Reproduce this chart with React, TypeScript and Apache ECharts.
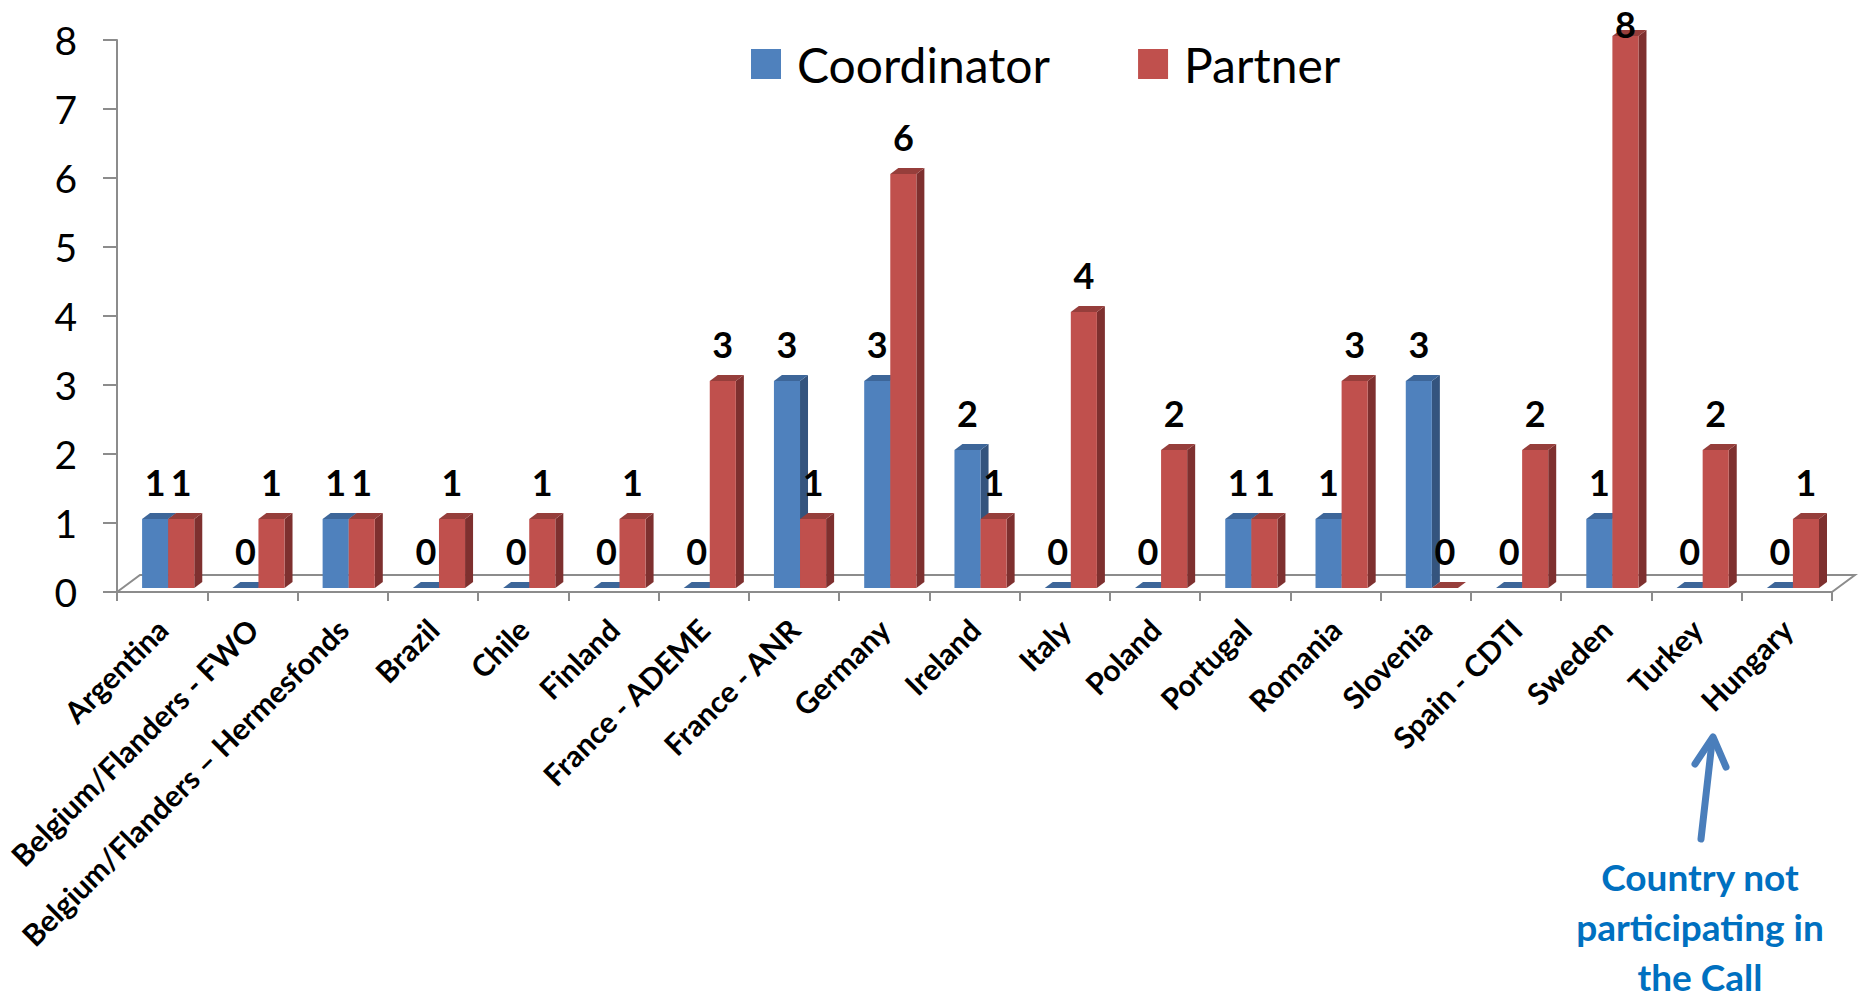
import React, { useEffect, useRef } from "react";
import * as echarts from "echarts";

// ---------- data ----------
const categories = [
  "Argentina",
  "Belgium/Flanders - FWO",
  "Belgium/Flanders – Hermesfonds",
  "Brazil",
  "Chile",
  "Finland",
  "France - ADEME",
  "France - ANR",
  "Germany",
  "Ireland",
  "Italy",
  "Poland",
  "Portugal",
  "Romania",
  "Slovenia",
  "Spain - CDTI",
  "Sweden",
  "Turkey",
  "Hungary",
];
const coordinator = [1, 0, 1, 0, 0, 0, 0, 3, 3, 2, 0, 0, 1, 1, 3, 0, 1, 0, 0];
const partner = [1, 1, 1, 1, 1, 1, 3, 1, 6, 1, 4, 2, 1, 3, 0, 2, 8, 2, 1];
const seriesNames = ["Coordinator", "Partner"];
const yMin = 0;
const yMax = 8;
const yInterval = 1;
const noteLines = ["Country not", "participating in", "the Call"];

// ---------- layout / style ----------
const W = 1858;
const H = 998;
const GRID_LEFT = 117;
const GRID_TOP = 40;
const GRID_RIGHT_X = 1832;
const GRID_BOTTOM_Y = 592;
const FLOOR_DX = 23;
const FLOOR_DY = 17;
const BAR_W = 0.289;
const LIFT = 4;
const DX = 8;
const DY = 6;
const LABEL_GAP = 19;
const LABEL_MIN = 42;
const FONT = "Lato, 'Open Sans', 'DejaVu Sans', sans-serif";

const BLUE = { front: "#4F81BD", top: "#3D6699", side: "#34547E" };
const RED = { front: "#C0504D", top: "#963E3B", side: "#7E302F" };

function makeRender(offsetFrac: number, c: { front: string; top: string; side: string }) {
  return (params: any, api: any) => {
    const cat = api.value(0) as number;
    const v = api.value(1) as number;
    const p0 = api.coord([cat, 0]);
    const p1 = api.coord([cat, v]);
    const cw = api.size([1, 0])[0];
    const w = cw * BAR_W;
    const x0 = p0[0] + cw * offsetFrac;
    const x1 = x0 + w;
    const yb = p0[1] - LIFT;
    const yt = p1[1] - LIFT;
    const children: any[] = [];
    if (yb - yt > 0.5) {
      children.push({
        type: "polygon",
        shape: { points: [[x1, yb], [x1 + DX, yb - DY], [x1 + DX, yt - DY], [x1, yt]] },
        style: { fill: c.side },
      });
      children.push({
        type: "rect",
        shape: { x: x0, y: yt, width: w, height: yb - yt },
        style: { fill: c.front },
      });
    }
    children.push({
      type: "polygon",
      shape: { points: [[x0, yt], [x0 + DX, yt - DY], [x1 + DX, yt - DY], [x1, yt]] },
      style: { fill: c.top },
    });
    children.push({
      type: "text",
      x: x0 + w / 2,
      y: Math.max(yt - LABEL_GAP, LABEL_MIN),
      style: {
        text: String(v),
        fontSize: 36,
        fontWeight: "bold",
        fontFamily: FONT,
        fill: "#000",
        align: "center",
        verticalAlign: "bottom",
      },
    });
    return { type: "group", children };
  };
}

export default function App() {
  const ref = useRef<HTMLDivElement>(null);
  useEffect(() => {
    if (!ref.current) return;
    const chart = echarts.init(ref.current, undefined, { renderer: "svg" });
    const axisGray = "#8C8C8C";
    chart.setOption({
      animation: false,
      grid: {
        left: GRID_LEFT,
        top: GRID_TOP,
        width: GRID_RIGHT_X - GRID_LEFT,
        height: GRID_BOTTOM_Y - GRID_TOP,
        containLabel: false,
      },
      legend: {
        data: seriesNames,
        left: 751,
        top: 40,
        itemWidth: 30,
        itemHeight: 30,
        itemGap: 88,
        padding: 0,
        icon: "rect",
        textStyle: { fontSize: 48, fontFamily: FONT, color: "#000", padding: [0, 0, 0, 11] },
      },
      xAxis: {
        type: "category",
        data: categories,
        boundaryGap: true,
        axisLine: { show: true, lineStyle: { color: axisGray, width: 2 } },
        axisTick: { show: true, length: 9, alignWithLabel: false, lineStyle: { color: axisGray, width: 2 } },
        axisLabel: {
          interval: 0,
          rotate: 45,
          margin: 32,
          fontSize: 30,
          fontWeight: "bold",
          fontFamily: FONT,
          color: "#000",
        },
        splitLine: { show: false },
      },
      yAxis: {
        type: "value",
        min: yMin,
        max: yMax,
        interval: yInterval,
        axisLine: { show: true, lineStyle: { color: axisGray, width: 2 } },
        axisTick: { show: true, length: 14, lineStyle: { color: axisGray, width: 2 } },
        axisLabel: { margin: 40, fontSize: 39, fontFamily: FONT, color: "#000" },
        splitLine: { show: false },
      },
      graphic: [
        {
          type: "polyline",
          z: 1,
          shape: {
            points: [
              [GRID_LEFT, GRID_BOTTOM_Y],
              [GRID_LEFT + FLOOR_DX, GRID_BOTTOM_Y - FLOOR_DY],
              [GRID_RIGHT_X + FLOOR_DX, GRID_BOTTOM_Y - FLOOR_DY],
              [GRID_RIGHT_X, GRID_BOTTOM_Y],
            ],
          },
          style: { stroke: axisGray, lineWidth: 2, fill: null },
        },
        {
          type: "line",
          shape: { x1: 1701, y1: 839, x2: 1712, y2: 742 },
          style: { stroke: "#4A7EBB", lineWidth: 7, lineCap: "round" },
        },
        {
          type: "polyline",
          shape: { points: [[1695, 764], [1713, 737], [1726, 767]] },
          style: { stroke: "#4A7EBB", lineWidth: 7, lineCap: "round", lineJoin: "round", fill: null },
        },
        {
          type: "text",
          x: 1700,
          y: 926,
          style: {
            text: noteLines.join("\n"),
            fontSize: 37,
            lineHeight: 50,
            fontWeight: "bold",
            fontFamily: FONT,
            fill: "#0070C0",
            align: "center",
            verticalAlign: "middle",
          },
        },
      ],
      series: [
        {
          name: seriesNames[0],
          type: "custom",
          clip: false,
          z: 3,
          itemStyle: { color: BLUE.front },
          renderItem: makeRender(-0.222, BLUE),
          encode: { x: 0, y: 1 },
          data: coordinator.map((v, i) => [i, v]),
        },
        {
          name: seriesNames[1],
          type: "custom",
          clip: false,
          z: 4,
          itemStyle: { color: RED.front },
          renderItem: makeRender(-0.222 + BAR_W, RED),
          encode: { x: 0, y: 1 },
          data: partner.map((v, i) => [i, v]),
        },
      ],
    });
    return () => chart.dispose();
  }, []);
  return (
    <div
      ref={ref}
      style={{ position: "absolute", left: 0, top: 0, width: W, height: H, background: "#fff" }}
    />
  );
}
